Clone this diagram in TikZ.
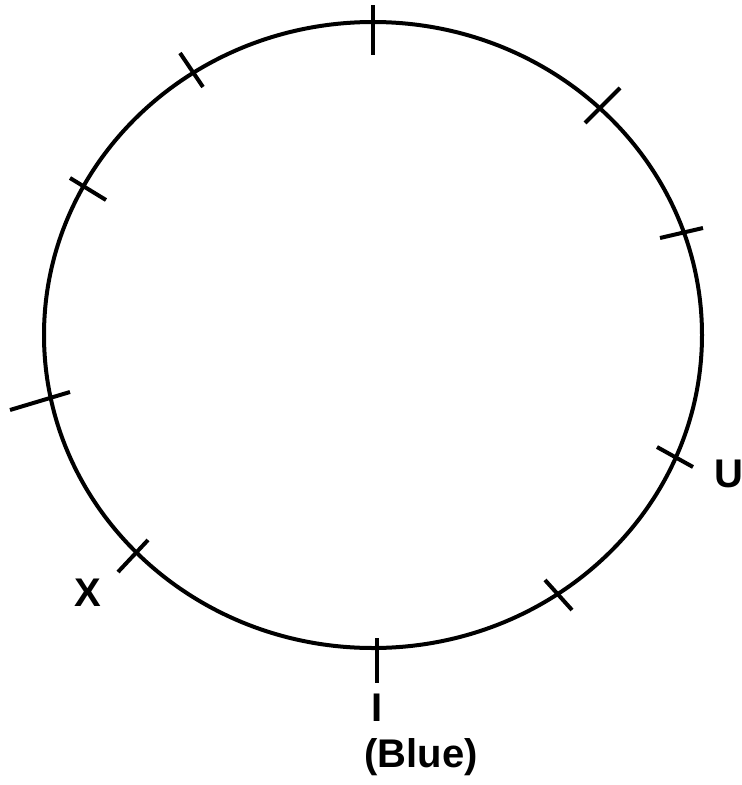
\documentclass[tikz,border=0pt]{standalone}
\usepackage{fontspec}
\setmainfont{Liberation Sans}
\begin{document}
\begin{tikzpicture}[x=1pt,y=-1pt,
  ring/.style={line width=4pt},
  tick/.style={line width=4pt},
  lbl/.style={font=\fontsize{40}{42}\selectfont\bfseries, inner sep=0pt}]
\useasboundingbox (0,0) rectangle (742,785);
\coordinate (c) at (373,335);
\draw[ring] (c) ellipse [x radius=329, y radius=313];
% ticks
\coordinate (t1a) at (373,5);   \coordinate (t1b) at (373,55);
\coordinate (t2a) at (585,123); \coordinate (t2b) at (620,88);
\coordinate (t3a) at (660,238); \coordinate (t3b) at (703,228);
\coordinate (t4a) at (657,447); \coordinate (t4b) at (693,467);
\coordinate (t5a) at (545,580); \coordinate (t5b) at (572,610);
\coordinate (t6a) at (377,638); \coordinate (t6b) at (377,683);
\coordinate (t7a) at (148,540); \coordinate (t7b) at (118,572);
\coordinate (t8a) at (10,410);  \coordinate (t8b) at (70,392);
\coordinate (t9a) at (70,178);  \coordinate (t9b) at (106,200);
\coordinate (t10a) at (180,53); \coordinate (t10b) at (203,87);
\foreach \i in {1,...,10} \draw[tick] (t\i a) -- (t\i b);
% labels
\node[lbl] (u) at (729,474) {U};
\node[lbl] (x) at (88,593) {X};
\node[lbl] (i) at (377,708) {I};
\node[lbl] (blue) at (421,757) {(Blue)};
\end{tikzpicture}
\end{document}
